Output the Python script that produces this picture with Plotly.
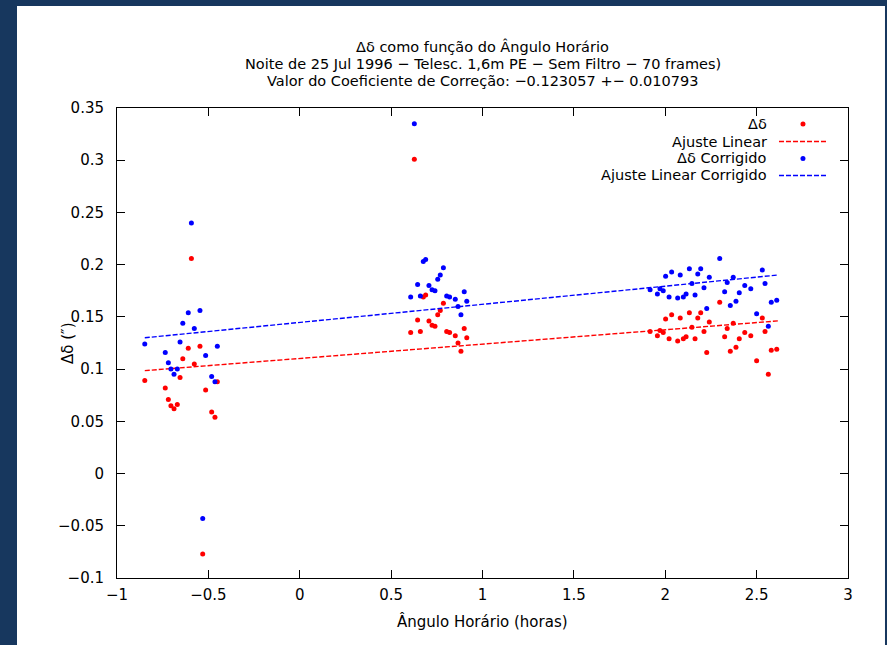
import plotly.graph_objects as go

# Hour angle (hours) of each frame
hour_angle = [
    -0.848, -0.736, -0.719, -0.705, -0.688, -0.670, -0.655, -0.640, -0.610,
    -0.593, -0.577, -0.546, -0.531, -0.515, -0.482, -0.464, -0.451,
    0.607, 0.627, 0.645, 0.660, 0.676, 0.689, 0.707, 0.724, 0.740, 0.755,
    0.769, 0.786, 0.804, 0.820, 0.851, 0.866, 0.882, 0.900, 0.914,
    1.917, 1.957, 1.971, 1.989, 2.002, 2.021, 2.035, 2.068, 2.082, 2.099,
    2.114, 2.132, 2.146, 2.163, 2.178, 2.194, 2.212, 2.227, 2.241, 2.298,
    2.325, 2.339, 2.356, 2.372, 2.387, 2.405, 2.435, 2.468, 2.500, 2.531,
    2.546, 2.564, 2.580, 2.610,
]

# Declination offset (arcsec)
delta = [
    0.089, 0.082, 0.071, 0.065, 0.062, 0.066, 0.092, 0.110, 0.120,
    0.206, 0.105, 0.122, -0.077, 0.080, 0.059, 0.054, 0.088,
    0.135, 0.301, 0.147, 0.136, 0.169, 0.171, 0.146, 0.142, 0.141, 0.152,
    0.156, 0.163, 0.136, 0.135, 0.132, 0.125, 0.117, 0.139, 0.130,
    0.136, 0.132, 0.137, 0.135, 0.148, 0.129, 0.152, 0.127, 0.149, 0.129,
    0.131, 0.154, 0.140, 0.129, 0.149, 0.154, 0.136, 0.116, 0.145, 0.164,
    0.131, 0.139, 0.117, 0.144, 0.121, 0.129, 0.135, 0.132, 0.108, 0.149,
    0.136, 0.095, 0.118, 0.119,
]

# Corrected declination offset (arcsec)
delta_corr = [
    0.124, 0.116, 0.106, 0.100, 0.095, 0.100, 0.126, 0.144, 0.154,
    0.240, 0.139, 0.156, -0.043, 0.113, 0.093, 0.088, 0.122,
    0.169, 0.335, 0.181, 0.170, 0.203, 0.205, 0.180, 0.176, 0.175, 0.186,
    0.190, 0.197, 0.170, 0.169, 0.167, 0.160, 0.152, 0.174, 0.165,
    0.176, 0.172, 0.177, 0.175, 0.189, 0.169, 0.193, 0.168, 0.190, 0.169,
    0.172, 0.196, 0.182, 0.171, 0.191, 0.196, 0.178, 0.158, 0.188, 0.206,
    0.174, 0.183, 0.161, 0.188, 0.165, 0.173, 0.180, 0.177, 0.153, 0.195,
    0.182, 0.141, 0.164, 0.166,
]

# Linear fits: intercept, slope
fit_raw = [0.1102, 0.01374]
fit_corr = [0.1447, 0.01735]
fit_range = [-0.848, 2.620]

x_ticks = [-1, -0.5, 0, 0.5, 1, 1.5, 2, 2.5, 3]
x_tick_text = ["\u22121", "\u22120.5", "0", "0.5", "1", "1.5", "2", "2.5", "3"]
y_ticks = [-0.1, -0.05, 0, 0.05, 0.1, 0.15, 0.2, 0.25, 0.3, 0.35]
y_tick_text = ["\u22120.1", "\u22120.05", "0", "0.05", "0.1", "0.15", "0.2", "0.25", "0.3", "0.35"]

title_lines = [
    "\u0394\u03b4 como fun\u00e7\u00e3o do \u00c2ngulo Hor\u00e1rio",
    "Noite de 25 Jul 1996 \u2212 Telesc. 1,6m PE \u2212 Sem Filtro \u2212 70 frames)",
    "Valor do Coeficiente de Corre\u00e7\u00e3o: \u22120.123057 +\u2212 0.010793",
]
legend_labels = ["\u0394\u03b4", "Ajuste Linear", "\u0394\u03b4 Corrigido", "Ajuste Linear Corrigido"]

RED = "#ff0000"
BLUE = "#0000ff"
FONT = "DejaVu Sans, Liberation Sans, sans-serif"
FS = 15          # axis text
FS_STACK = 14.5  # stacked title / key lines
DASH = "5px,2px"
LW = 1.4

fig = go.Figure()

fig.add_trace(go.Scatter(
    x=hour_angle, y=delta, mode="markers",
    marker=dict(color=RED, size=5, symbol="circle"), showlegend=False,
))
fig.add_trace(go.Scatter(
    x=fit_range, y=[fit_raw[0] + fit_raw[1] * v for v in fit_range], mode="lines",
    line=dict(color=RED, width=LW, dash=DASH), showlegend=False,
))
fig.add_trace(go.Scatter(
    x=hour_angle, y=delta_corr, mode="markers",
    marker=dict(color=BLUE, size=5, symbol="circle"), showlegend=False,
))
fig.add_trace(go.Scatter(
    x=fit_range, y=[fit_corr[0] + fit_corr[1] * v for v in fit_range], mode="lines",
    line=dict(color=BLUE, width=LW, dash=DASH), showlegend=False,
))

# Key samples drawn on an overlay axis spanning the plot area (0..1)
legend_rows = [0.966, 0.9287, 0.8926, 0.8564]
legend_kinds = [("dot", RED), ("line", RED), ("dot", BLUE), ("line", BLUE)]
for yy, (kind, col) in zip(legend_rows, legend_kinds):
    if kind == "line":
        fig.add_trace(go.Scatter(
            x=[0.9056, 0.9713], y=[yy, yy], mode="lines", xaxis="x2", yaxis="y2",
            line=dict(color=col, width=LW, dash=DASH), showlegend=False, hoverinfo="skip",
        ))
    else:
        fig.add_trace(go.Scatter(
            x=[0.9384], y=[yy], mode="markers", xaxis="x2", yaxis="y2",
            marker=dict(color=col, size=5), showlegend=False, hoverinfo="skip",
        ))

# Page frame: navy border around a white sheet
shapes = [dict(
    type="rect", xref="paper", yref="paper",
    x0=-0.1368, x1=1.0506, y0=-0.1426, y1=1.2170,
    fillcolor="white", line=dict(width=0), layer="below",
)]

annotations = []
for text, yy in zip(title_lines, [1.1298, 1.0936, 1.0574]):
    annotations.append(dict(
        text=text, xref="paper", yref="paper", x=0.5, y=yy,
        xanchor="center", yanchor="middle", showarrow=False,
        font=dict(family=FONT, size=FS_STACK, color="black"),
    ))

annotations.append(dict(
    text="\u00c2ngulo Hor\u00e1rio (horas)", xref="paper", yref="paper",
    x=0.5, y=-0.0915, xanchor="center", yanchor="middle", showarrow=False,
    font=dict(family=FONT, size=FS, color="black"),
))
annotations.append(dict(
    text="\u0394\u03b4 (\u2033)", xref="paper", yref="paper",
    x=-0.067, y=0.5, xanchor="center", yanchor="middle", showarrow=False,
    textangle=-90, font=dict(family=FONT, size=FS, color="black"),
))

for label, yy in zip(legend_labels, legend_rows):
    annotations.append(dict(
        text=label, xref="paper", yref="paper", x=0.8919, y=yy,
        xanchor="right", yanchor="middle", showarrow=False,
        font=dict(family=FONT, size=FS_STACK, color="black"),
    ))

axis_common = dict(
    showgrid=False, zeroline=False, showline=True, linecolor="black",
    linewidth=1, mirror="ticks", ticks="inside", ticklen=8, tickcolor="black",
    tickfont=dict(family=FONT, size=FS, color="black"),
)
hidden = dict(range=[0, 1], visible=False, showgrid=False, zeroline=False, fixedrange=True)

fig.update_layout(
    width=887, height=645,
    margin=dict(l=117, r=39, t=108, b=67),
    paper_bgcolor="#17375e", plot_bgcolor="white",
    xaxis=dict(range=[-1, 3], tickvals=x_ticks, ticktext=x_tick_text,
               ticklabelstandoff=3, **axis_common),
    yaxis=dict(range=[-0.1, 0.35], tickvals=y_ticks, ticktext=y_tick_text,
               ticklabelstandoff=9, **axis_common),
    xaxis2=dict(overlaying="x", **hidden),
    yaxis2=dict(overlaying="y", **hidden),
    shapes=shapes, annotations=annotations,
)

fig.write_html("out.html")
